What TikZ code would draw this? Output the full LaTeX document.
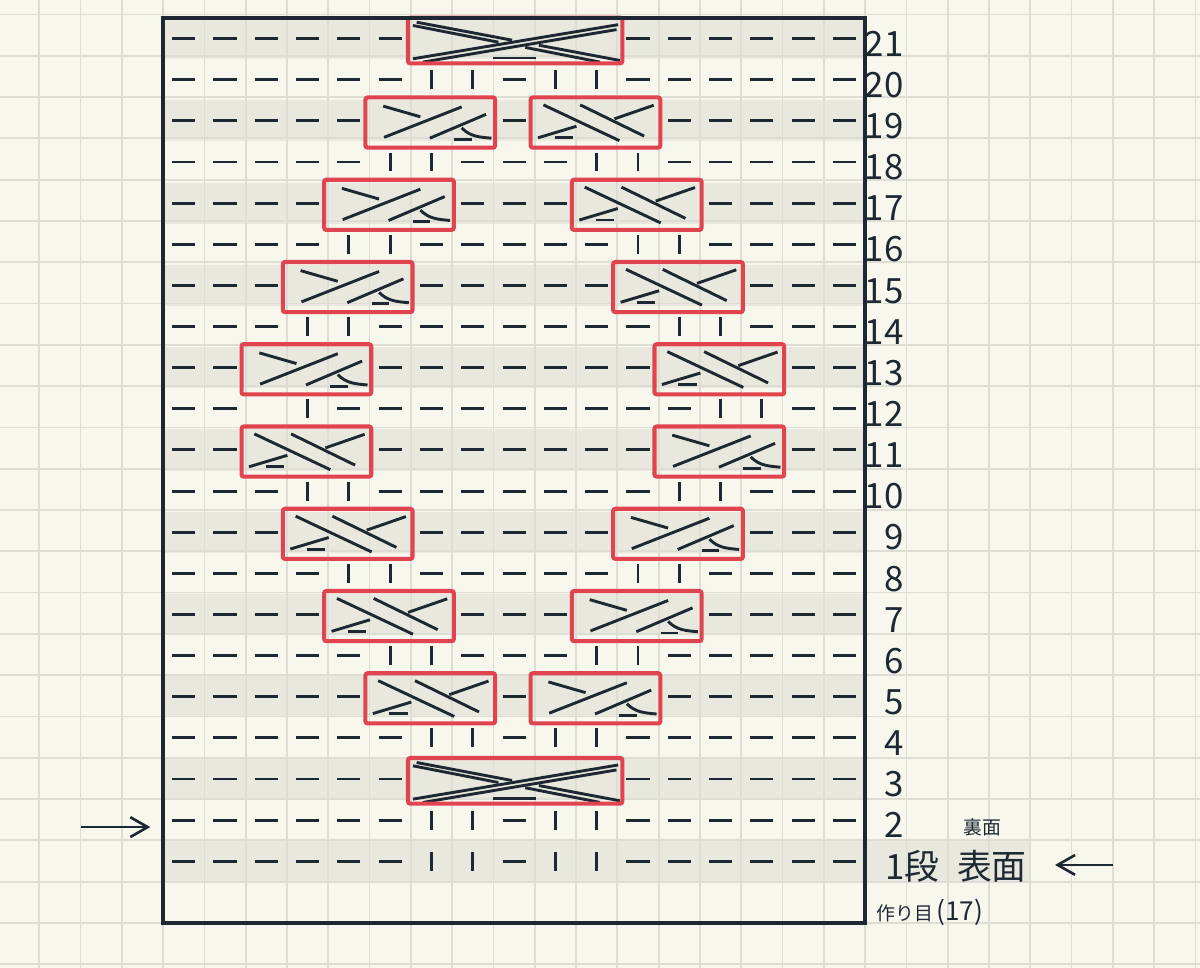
\documentclass[tikz,border=0pt]{standalone}
\usepackage{fontspec}
\setmainfont{Noto Sans CJK JP}
\usetikzlibrary{arrows.meta}

\definecolor{paper}{HTML}{F8F7ED}
\definecolor{gridgray}{HTML}{DEDDD5}
\definecolor{rowshade}{HTML}{E9E8DE}
\definecolor{ink}{HTML}{1D2832}
\definecolor{boxred}{HTML}{E0444F}

\tikzset{
    stitch/.style = {ink, line width = 2pt},
    cabbox/.style = {boxred, line width = 2.8pt, rounded corners = 1.5pt},
    gridline/.style = {gridgray, line width = 1.2pt},
    arr/.style = {ink, line width = 1.8pt, -{Straight Barb[length = 0.42cm, width = 0.48cm]}},
    rownum/.style = {font = \fontsize{24}{24}\selectfont, text = ink, inner sep = 0pt},
}

\newcommand\cabright[2]{%
    \begin{scope}[shift = {(#1, #2)}]
        \draw [stitch] (0.33, 0.86) -- (1.23, 0.60);
        \draw [stitch] (0.35, 0.10) -- (2.23, 0.84);
        \draw [stitch] (1.46, 0.08) -- (2.82, 0.66);
        \draw [stitch] (2.23, 0.33) to [out = -45, in = 175] (2.95, 0.08);
        \draw [stitch] (2.05, 0.05) -- (2.47, 0.05);
        \draw [cabbox] (-0.1, -0.15) rectangle (3.04, 1.07);
    \end{scope}}

\newcommand\cableft[2]{%
    \begin{scope}[shift = {(#1, #2)}]
        \draw [stitch] (0.21, 0.89) -- (2.05, 0.02);
        \draw [stitch] (1.10, 0.89) -- (2.65, 0.13);
        \draw [stitch] (1.93, 0.55) -- (2.88, 0.88);
        \draw [stitch] (0.08, 0.09) -- (1.01, 0.37);
        \draw [stitch] (0.48, 0.09) -- (0.92, 0.09);
        \draw [cabbox] (-0.1, -0.15) rectangle (3.04, 1.07);
    \end{scope}}

\newcommand\cabwide[2]{%
    \begin{scope}[shift = {(#1, #2)}]
        \draw [stitch] (0.14, 0.90) -- (2.45, 0.463);
        \draw [stitch] (3.10, 0.34) -- (5.06, -0.03);
        \draw [stitch] (0.05, 0.82) -- (2.12, 0.414);
        \draw [stitch] (2.77, 0.287) -- (4.58, -0.07);
        \draw [stitch] (0.05, 0.01) -- (5.02, 0.84);
        \draw [stitch] (0.29, -0.07) -- (4.98, 0.72);
        \draw [stitch] (1.99, 0.03) -- (3.04, 0.03);
        \draw [cabbox] (-0.07, -0.1) rectangle (5.12, 1.01);
    \end{scope}}

\begin{document}
\begin{tikzpicture}[x = 1cm, y = 0.996cm]
    \useasboundingbox (-3.95, -1.094) rectangle (25.11, 22.44);
    \fill [paper] (-3.95, -1.094) rectangle (25.11, 22.44);
    \foreach \r in {1, 3, ..., 21}
        \fill [rowshade] (0, \r) rectangle (17, \r + 1);
    \fill [rowshade] (17, 1) rectangle (21, 2);
    \draw [gridline] (-3.95, -1.094) grid (25.11, 22.44);

    \foreach \r/\cols in {21/{1,2,3,4,5,6,12,13,14,15,16,17},
            20/{1,2,3,4,5,6,9,12,13,14,15,16,17},
            19/{1,2,3,4,5,9,13,14,15,16,17},
            18/{1,2,3,4,5,8,9,10,13,14,15,16,17},
            17/{1,2,3,4,8,9,10,14,15,16,17},
            16/{1,2,3,4,7,8,9,10,11,14,15,16,17},
            15/{1,2,3,7,8,9,10,11,15,16,17},
            14/{1,2,3,6,7,8,9,10,11,12,15,16,17},
            13/{1,2,6,7,8,9,10,11,12,16,17},
            12/{1,2,5,6,7,8,9,10,11,12,13,16,17},
            11/{1,2,6,7,8,9,10,11,12,16,17},
            10/{1,2,3,6,7,8,9,10,11,12,15,16,17},
            9/{1,2,3,7,8,9,10,11,15,16,17},
            8/{1,2,3,4,7,8,9,10,11,14,15,16,17},
            7/{1,2,3,4,8,9,10,14,15,16,17},
            6/{1,2,3,4,5,8,9,10,13,14,15,16,17},
            5/{1,2,3,4,5,9,13,14,15,16,17},
            4/{1,2,3,4,5,6,9,12,13,14,15,16,17},
            3/{1,2,3,4,5,6,12,13,14,15,16,17},
            2/{1,2,3,4,5,6,9,12,13,14,15,16,17},
            1/{1,2,3,4,5,6,9,12,13,14,15,16,17}}
        \foreach \c in \cols
            \draw [stitch] (\c - 0.78, \r + 0.5) -- (\c - 0.22, \r + 0.5);

    \foreach \r/\cols in {20/{7,8,10,11}, 18/{6,7,11,12}, 16/{5,6,12,13}, 14/{4,5,13,14},
            12/{4,14,15}, 10/{4,5,13,14}, 8/{5,6,12,13}, 6/{6,7,11,12}, 4/{7,8,10,11},
            2/{7,8,10,11}, 1/{7,8,10,11}}
        \foreach \c in \cols
            \draw [stitch] (\c - 0.5, \r + 0.27) -- (\c - 0.5, \r + 0.73);

    \foreach \x/\r in {5/19, 4/17, 3/15, 2/13, 12/11, 11/9, 10/7, 9/5}
        {\cabright{\x}{\r}}
    \foreach \x/\r in {9/19, 10/17, 11/15, 12/13, 2/11, 3/9, 4/7, 5/5}
        {\cableft{\x}{\r}}
    \cabwide{6}{21}
    \cabwide{6}{3}

    \draw [ink, line width = 2.4pt] (0, 0) rectangle (17, 22);

    \foreach \r in {2, ..., 21}
        \node [rownum, anchor = base east] (r\r) at (17.94, \r + 0.07) {\r};
    \node [rownum, anchor = base] (one) at (18.15, 1.06) {1段};
    \node [rownum, anchor = base] (face) at (20.07, 1.06) {表面};
    \node [font = \fontsize{13}{13}\selectfont, text = ink] (back) at (19.84, 2.33) {裏面};
    \node [anchor = base west, inner sep = 0pt, text = ink] (cast) at (17.27, 0.06)
        {{\fontsize{13}{13}\selectfont 作り目} {\fontsize{18}{18}\selectfont (17)}};

    \coordinate (l1) at (-2, 2.33);
    \coordinate (l2) at (-0.31, 2.33);
    \coordinate (r1) at (23, 1.41);
    \coordinate (r2) at (21.6, 1.41);
    \draw [arr] (l1) -- (l2);
    \draw [arr] (r1) -- (r2);
\end{tikzpicture}
\end{document}
